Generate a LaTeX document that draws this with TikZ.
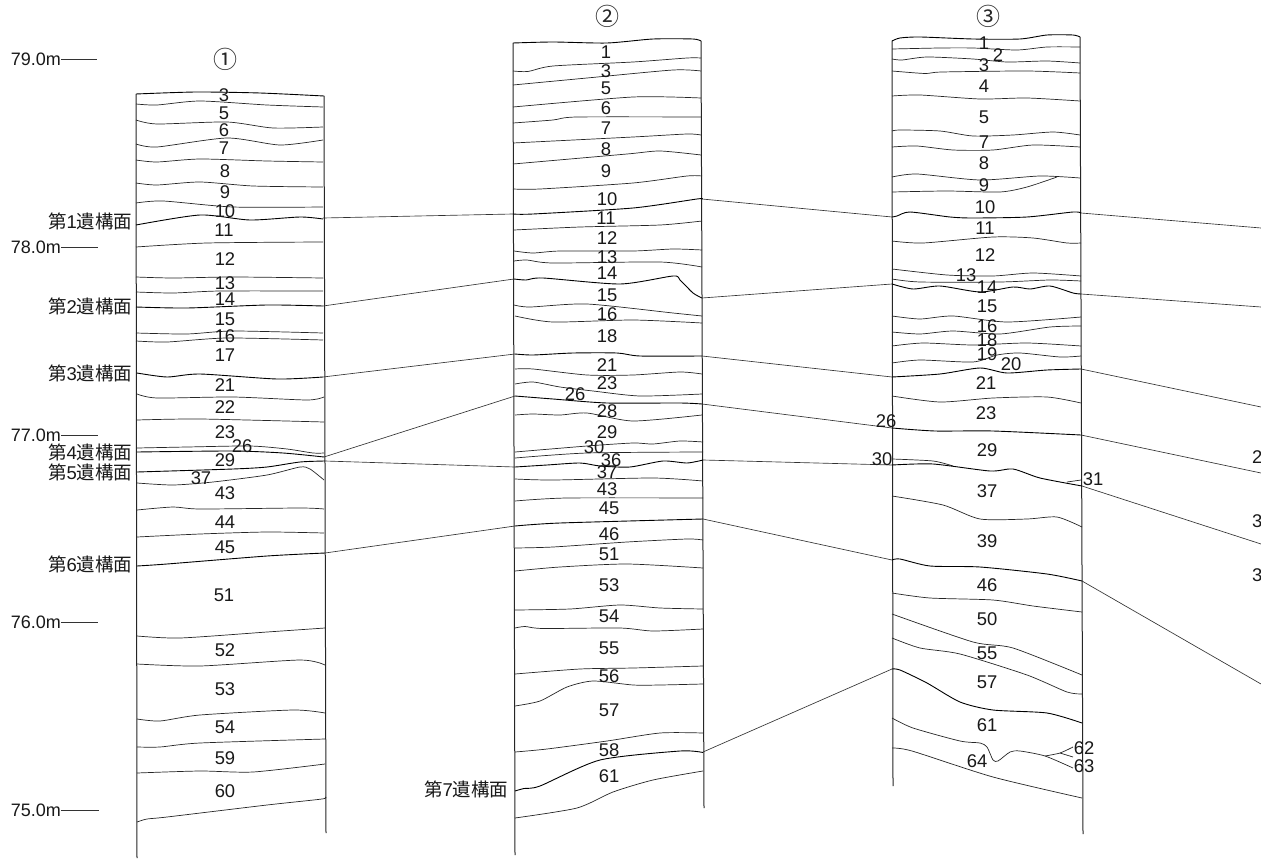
\documentclass[tikz,border=0pt]{standalone}
\usepackage{fontspec}
\setmainfont{Liberation Sans}
\newfontfamily\cjk{Noto Sans CJK JP}
\newcommand{\surf}[1]{{\cjk 第}#1{\cjk 遺構面}}
\tikzset{
  layer/.style={line width=0.7pt,black!85,line join=round},
  surface/.style={line width=0.9pt,black,line join=round},
  post/.style={line width=1pt,black!85},
  link/.style={line width=0.65pt,black!80},
  tick/.style={line width=0.7pt,black!80},
  num/.style={inner sep=0pt,font=\fontsize{18.4}{20}\selectfont,text=black!90},
  lev/.style={inner sep=0pt,anchor=east,font=\fontsize{18}{20}\selectfont,text=black!90},
  surflab/.style={inner sep=0pt,anchor=east,font=\fontsize{18.5}{20}\selectfont,text=black!90},
  circ/.style={inner sep=0pt,font=\cjk\fontsize{24}{26}\selectfont,text=black!85},
}
\newcommand{\wl}[2][layer]{\draw[#1] plot[smooth,tension=0.42] coordinates {#2};}
\begin{document}
\begin{tikzpicture}[x=1pt,y=-1pt]
\useasboundingbox (0,0) rectangle (1261,859);
\fill[white] (0,0) rectangle (1261,859);

% column headings
\node[circ] (h1) at (225,59) {①};
\node[circ] (h2) at (607,16) {②};
\node[circ] (h3) at (988,16) {③};

% level marks
\foreach \n/\t/\y/\e in {m79/79.0/59/97,m78/78.0/247/98,m77/77.0/435/98,m76/76.0/622/98,m75/75.0/810/99}{
  \node[lev] (\n) at (61,\y) {\t m};
  \coordinate (\n e) at (\e,\y);
  \draw[tick] (\n.east) -- (\n e);
}

% posts
\coordinate (p1a) at (136,94);  \coordinate (p1b) at (137,858);
\coordinate (p1c) at (324,96);  \coordinate (p1d) at (326,833);
\coordinate (p2a) at (513,43);  \coordinate (p2b) at (515,855);
\coordinate (p2c) at (701,41);  \coordinate (p2d) at (704,808);
\coordinate (p3a) at (892,41);  \coordinate (p3b) at (893,786);
\coordinate (p3c) at (1080,37); \coordinate (p3d) at (1083,834);
\foreach \a/\b in {p1a/p1b,p1c/p1d,p2a/p2b,p2c/p2d,p3a/p3b,p3c/p3d}{\draw[post] (\a) -- (\b);}

% ---- column 1
\wl[surface]{(136,94)(196,92)(260,93)(324,96)}
\wl{(136,104)(157,105)(200,101)(267,105)(323,107)}
\wl{(136,120)(157,124)(227,122)(273,128)(323,127)}
\wl{(136,144)(157,147)(227,138)(280,145)(323,140)}
\wl{(136,160)(157,162)(200,159)(267,161)(323,162)}
\wl{(136,183)(157,185)(200,182)(253,186)(323,187)}
\wl{(136,203)(163,201)(233,207)(323,207)}
\wl[surface]{(136,225)(200,215)(250,220)(300,217)(323,219)}
\wl{(136,247)(207,243)(323,242)}
\wl{(136,277)(173,278)(233,277)(323,278)}
\wl{(136,292)(173,293)(220,291)(323,291)}
\wl[surface]{(136,307)(187,308)(267,305)(323,306)}
\wl{(136,333)(187,334)(233,331)(323,333)}
\wl{(136,341)(167,342)(227,338)(323,340)}
\wl[surface]{(137,373)(167,377)(200,374)(277,379)(323,377)}
\wl{(137,394)(157,398)(233,397)(307,400)(324,397)}
\wl{(137,420)(200,419)(324,422)}
\wl{(137,448)(187,447)(250,446)(287,449)(313,453)(324,453)}
\wl[surface]{(137,452)(233,451)(283,453)(324,457)}
\wl[surface]{(137,472)(233,469)(267,467)(300,462)(325,461)}
\wl{(137,483)(173,485)(213,482)(267,475)(300,467)(310,469)(324,480)}
\wl{(137,510)(173,507)(200,509)(300,508)(324,509)}
\wl{(137,537)(200,534)(267,532)(324,533)}
\wl[surface]{(137,566)(167,564)(267,556)(325,553)}
\wl{(137,636)(180,638)(267,632)(325,628)}
\wl{(137,664)(200,666)(300,660)(325,665)}
\wl{(137,719)(160,721)(200,715)(293,710)(325,713)}
\wl{(137,747)(160,747)(200,743)(325,739)}
\wl{(137,773)(200,771)(253,772)(325,764)}
\wl{(137,822)(147,819)(167,817)(267,805)(322,799)(325,797)}

% ---- column 2
\wl[surface]{(513,43)(553,42)(607,43)(653,39)(693,39)(701,41)}
\wl{(513,71)(528,71.5)(553,66)(633,62)(687,58)(701,58)}
\wl{(513,85)(587,78)(673,70)(701,71)}
\wl{(513,107)(633,97)(701,98)}
\wl{(513,123)(553,120)(577,117)(701,117)}
\wl{(513,143)(633,137)(687,134)(701,135)}
\wl{(513,164)(627,154)(660,151)(701,155)}
\wl{(513,189)(540,189)(633,183)(687,176)(702,176)}
\wl[surface]{(513,214)(533,214)(633,208)(697,199)(702,199)}
\wl{(514,230)(580,227)(660,225)(702,221)}
\wl{(514,251)(533,253)(560,251)(633,251)(673,249)(702,250)}
\wl{(514,261)(527,260)(553,263)(660,262)(702,267)}
\wl[surface]{(514,279)(526,280)(543,278)(620,284)(673,276)(680,280)(693,293)(702,298)}
\wl{(514,305)(530,307)(587,304)(673,313)(702,316)}
\wl{(515,316)(553,322)(633,320)(702,323)}
\wl[surface]{(515,354)(533,355)(573,353)(617,353)(640,356)(702,356)}
\wl{(515,369)(533,369)(587,375)(633,375)(680,372)(702,374)}
\wl{(515,384)(533,382)(560,387)(593,391)(640,396)(702,394)}
\wl[surface]{(515,396)(553,399)(607,403)(680,403)(702,404)}
\wl{(515,415)(533,414)(560,415)(587,413)(633,421)(702,415)}
\wl{(515,452)(587,446)(633,443)(653,444)(680,441)(703,442)}
\wl{(515,458)(587,453)(703,452)}
\wl[surface]{(515,467)(547,465)(580,463)(600,466)(630,467)(663,461)(687,463)(703,460)}
\wl{(515,479)(553,480)(653,478)(703,481)}
\wl{(515,501)(567,498)(703,498)}
\wl[surface]{(515,526)(560,523)(703,519)}
\wl{(515,548)(553,547)(627,542)(687,539)(703,540)}
\wl{(515,571)(560,567)(627,564)(703,568)}
\wl{(515,610)(570,609)(620,605)(660,608)(703,609)}
\wl{(515,628)(525,626.5)(543,628.5)(620,628)(653,631)(703,629)}
\wl{(515,674)(580,669)(633,668)(703,666)}
\wl{(515,706)(540,701)(567,687)(593,681)(633,685)(660,685)(703,684)}
\wl{(515,752)(547,749)(607,741)(660,733)(703,733)}
\wl[surface]{(515,791)(524,788.5)(540,786)(600,760)(680,751)(703,752.5)}
\wl{(515,818)(577,808)(613,792)(653,780)(703,771)}

% ---- column 3
\wl[surface]{(892,41)(900,38)(920,37)(973,39)(1020,39)(1047,35)(1073,35)(1080,37)}
\wl{(892,49)(940,48)(973,48)(1017,50)(1047,47)(1080,47)}
\wl{(892,59)(902,60)(927,57)(973,59)(1007,62)(1047,61)(1080,63)}
\wl{(892,71)(925,73.5)(942,72)(1027,71)(1080,73)}
\wl{(892,96)(920,95)(980,99)(1027,98)(1080,101)}
\wl{(892,131)(900,130)(940,131)(973,136)(1013,135)(1053,132)(1080,135)}
\wl{(892,147)(917,146)(953,150)(993,150)(1033,145)(1080,147)}
\wl{(892,177)(917,174)(980,180)(1040,176)(1080,178)}
\wl{(892,192)(947,191)(1000,192)(1027,187)(1057,177)}
\wl[surface]{(892,217)(897,216)(910,212)(950,217)(973,218)(1027,217)(1073,212)(1081,213)}
\wl{(892,241)(923,243)(993,237)(1033,238)(1067,243)(1081,243)}
\wl{(892,269)(947,275)(993,276)(1033,273)(1081,276)}
\wl{(892,279)(920,282)(1000,282)(1050,280)(1081,281)}
\wl[surface]{(892,284)(913,289)(940,286)(980,292)(1013,287)(1030,289)(1050,286)(1073,293)(1081,294)}
\wl{(892,316)(920,319)(953,316)(1007,322)(1081,317)}
\wl{(892,332)(920,334)(953,331)(1000,334)(1050,327)(1081,326)}
\wl{(892,346)(923,343)(973,345)(1027,343)(1081,346)}
\wl{(892,363)(920,360)(973,362)(997,355)(1020,353)(1060,357)(1081,356)}
\wl[surface]{(892,377)(940,374)(980,368)(1007,373)(1047,370)(1081,369)}
\wl{(892,396)(940,402)(993,398)(1047,397)(1081,403)}
\wl[surface]{(892,428)(935,431)(993,431)(1081,435)}
\wl{(892,459)(933,461)(953,466)}
\wl[surface]{(892,465)(933,464)(990,471)(1013,469)(1040,478)(1082,486)}
\wl{(1067,482)(1081,480)}
\wl{(892,496)(943,505)(980,519)(1027,519)(1057,517)(1082,527)}
\wl[surface]{(892,560)(900,559)(930,566)(980,567)(1047,574)(1082,581)}
\wl{(892,593)(930,598)(993,600)(1033,606)(1082,612)}
\wl{(892,614)(973,642)(1013,648)(1082,675)}
\wl{(892,638)(920,648)(960,654)(1027,675)(1067,692)(1082,694)}
\wl[surface]{(892,669)(900,670)(927,683)(960,702)(993,710)(1047,713)(1082,723)}
\wl{(892,718)(913,728)(960,741)(980,743)(987,747)(993,760)(998,761)(1010,752)(1020,751)(1045,756)(1073,768)}
\wl{(1045,756)(1060,753)(1073,747)}
\wl{(1060,753)(1073,757)}
\wl{(892,748)(912,751)(993,777)(1082,798)}

% correlation ends
\foreach \n/\x/\y in {
 a1/323/218,a2/323/306,a3/323/377,a4/324/457,a5/325/461,a6/325/553,
 b1/513/214,b2/514/279,b3/515/354,b4/515/396,b5/515/467,b6/515/526,
 c1/702/199,c2/702/298,c3/702/356,c4/702/404,c5/703/460,c6/703/519,c7/703/752,
 d1/892/217,d2/892/284,d3/892/377,d4/892/428,d5/892/465,d6/892/560,d7/892/669,
 e1/1081/213,e2/1081/294,e3/1081/369,e4/1081/435,e5/1082/486,e6/1082/581,
 f1/1261/228,f2/1261/307,f3/1261/407,f4/1261/473,f5/1261/544,f6/1261/684}{
  \coordinate (\n) at (\x,\y);
}
\foreach \i in {1,...,6}{
  \draw[link] (a\i) -- (b\i);
  \draw[link] (c\i) -- (d\i);
  \draw[link] (e\i) -- (f\i);
}
\draw[link] (c7) -- (d7);

% surface names
\foreach \n/\t/\x/\y in {s1/1/132.5/221,s2/2/132.5/306,s3/3/132.5/373,s4/4/132.5/452,s5/5/132.5/472,s6/6/132.5/564,s7/7/508.5/789}{
  \node[surflab] (\n) at (\x,\y) {\surf{\t}};
}

% layer numbers
\foreach \x/\y/\t [count=\i] in {
 224/95/3,224/113/5,224/130/6,224/148/7,225/171/8,225/192/9,225/211/10,224/230/11,225/259/12,225/283/13,
 225/299/14,225/319/15,225/336/16,225/355/17,225/385/21,225/407/22,225/432/23,242/446/26,225/460/29,201/478/37,
 225/493/43,225/522/44,225/547/45,224/595/51,225/650/52,225/689/53,225/727/54,225/758/59,225/791/60,
 606/52/1,606/71/3,606/88/5,606/108/6,606/128/7,606/149/8,606/171/9,607/199/10,606/218/11,607/238/12,
 607/257/13,607/273/14,607/295/15,607/314/16,607/336/18,607/365/21,607/383/23,575/394/26,607/411/28,607/432/29,
 594/447/30,611/460/36,607/472/37,607/489/43,609/508/45,609/534/46,609/554/51,609/585/53,609/616/54,609/648/55,
 609/676/56,609/710/57,609/750/58,609/776/61,
 984/43/1,998/55/2,984/65/3,984/86/4,984/117/5,984/142/7,984/163/8,984/185/9,985/207/10,985/228/11,
 985/255/12,966/275/13,987/287/14,987/306/15,987/326/16,987/340/18,987/354/19,1011/364/20,986/383/21,986/413/23,
 886/421/26,987/450/29,882/459/30,987/491/37,1093/479/31,987/541/39,987/585/46,987/619/50,987/653/55,987/682/57,
 987/725/61,977/761/64,1084/748/62,1084/766/63}{
  \node[num] (n\i) at (\x,\y) {\t};
}
\node[num,anchor=west] (r1) at (1252,457) {2};
\node[num,anchor=west] (r2) at (1252,521) {3};
\node[num,anchor=west] (r3) at (1252,575) {3};
\end{tikzpicture}
\end{document}
